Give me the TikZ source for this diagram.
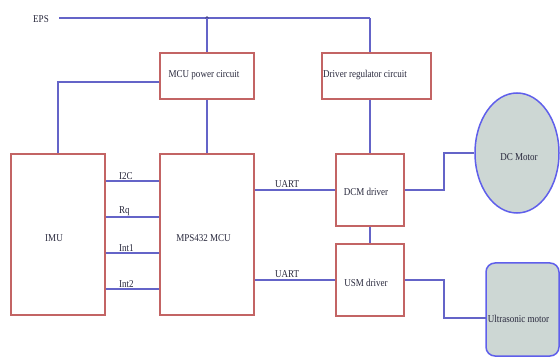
\documentclass[tikz,border=0pt]{standalone}
\usepackage{fontspec}
\setmainfont{Liberation Serif}
\usetikzlibrary{shapes.geometric,calc}
\definecolor{wire}{RGB}{100,100,200}
\definecolor{boxred}{RGB}{195,100,100}
\definecolor{motorblue}{RGB}{95,95,235}
\definecolor{motorfill}{RGB}{205,215,212}
\definecolor{txt}{RGB}{40,40,60}
\newcommand{\lbl}[1]{\scalebox{0.86}[1]{\fontsize{10.5}{12}\selectfont #1}}
\begin{document}
\begin{tikzpicture}[x=1pt,y=-1pt,
  blk/.style={draw=boxred,line width=1.4pt,rectangle,inner sep=0pt,text=txt},
  wireline/.style={draw=wire,line width=1.8pt},
  lab/.style={text=txt,inner sep=0pt},
  motor/.style={draw=motorblue,fill=motorfill,line width=1.5pt,inner sep=0pt,text=txt}]
\useasboundingbox (0,0) rectangle (560,358);
% blocks
\node[blk,minimum width=94pt,minimum height=46pt] (mcupw) at (207,76) {};
\node[lab] (mcupwt) at (204,75) {\lbl{MCU power circuit}};
\node[blk,minimum width=109pt,minimum height=46pt] (drv) at (376.5,76) {};
\node[lab,anchor=west] (drvt) at (323,75) {\lbl{Driver regulator circuit}};
\node[blk,minimum width=94pt,minimum height=161pt] (imu) at (58,234.5) {};
\node[lab] (imut) at (54,238) {\lbl{IMU}};
\node[blk,minimum width=94pt,minimum height=161pt] (mcu) at (207,234.5) {};
\node[lab] (mcut) at (203.5,238) {\lbl{MPS432 MCU}};
\node[blk,minimum width=68pt,minimum height=72pt] (dcm) at (370,190) {};
\node[lab] (dcmt) at (366,192) {\lbl{DCM driver}};
\node[blk,minimum width=68pt,minimum height=72pt] (usm) at (370,280) {};
\node[lab] (usmt) at (366,283) {\lbl{USM driver}};
% motors
\node[motor,ellipse,minimum width=84pt,minimum height=120pt] (dcmotor) at (517,153) {};
\node[lab] (dcmotort) at (519,157) {\lbl{DC Motor}};
\node[motor,rectangle,rounded corners=9pt,minimum width=73pt,minimum height=93pt] (usmotor) at (522.5,309.5) {};
% EPS line
\node[lab] (eps) at (41,19) {\lbl{EPS}};
\coordinate (epsstart) at (59,18);
\coordinate (dot) at (207,18);
\coordinate (corner) at (370,18);
\draw[wireline] (epsstart) -- (dot);
\draw[wireline] (dot) -- (corner);
\draw[wireline] (corner) -- (dcm.north |- drv.north);
\fill[wire!70!black] (dot) circle (1.8pt);
\draw[wireline] (dot) -- (mcupw.north);
\draw[wireline] (mcupw.south) -- (mcu.north);
\coordinate (lft) at ($(mcupw.west)+(0,6)$);
\draw[wireline] (lft) -| (imu.north);
\draw[wireline] (dcm.north |- drv.south) -- (dcm.north);
\draw[wireline] (dcm.south) -- (usm.north);
% signal lines
\foreach \yy/\t/\n in {181/I2C/a,217/Rq/b,253/Int1/c,289/Int2/d}{
  \draw[wireline] (imu.east |- 0,\yy) -- (mcu.west |- 0,\yy);
  \node[lab,anchor=south west] (sig\n) at (119,\yy-1.5) {\lbl{\t}};
}
% UART
\draw[wireline] (mcu.east |- dcm.west) -- (dcm.west);
\node[lab,anchor=south west] (ua1) at (275,188) {\lbl{UART}};
\draw[wireline] (mcu.east |- usm.west) -- (usm.west);
\node[lab,anchor=south west] (ua2) at (275,278) {\lbl{UART}};
% motor links
\coordinate (k1) at (444,153);
\draw[wireline] (dcm.east) -| (k1) -- (dcmotor.west);
\coordinate (k2) at (444,318);
\coordinate (k3) at (486,318);
\draw[wireline] (usm.east) -| (k2) -- (k3);
\node[lab] (usmotort) at (518.5,319) {\lbl{Ultrasonic motor}};
\end{tikzpicture}
\end{document}
